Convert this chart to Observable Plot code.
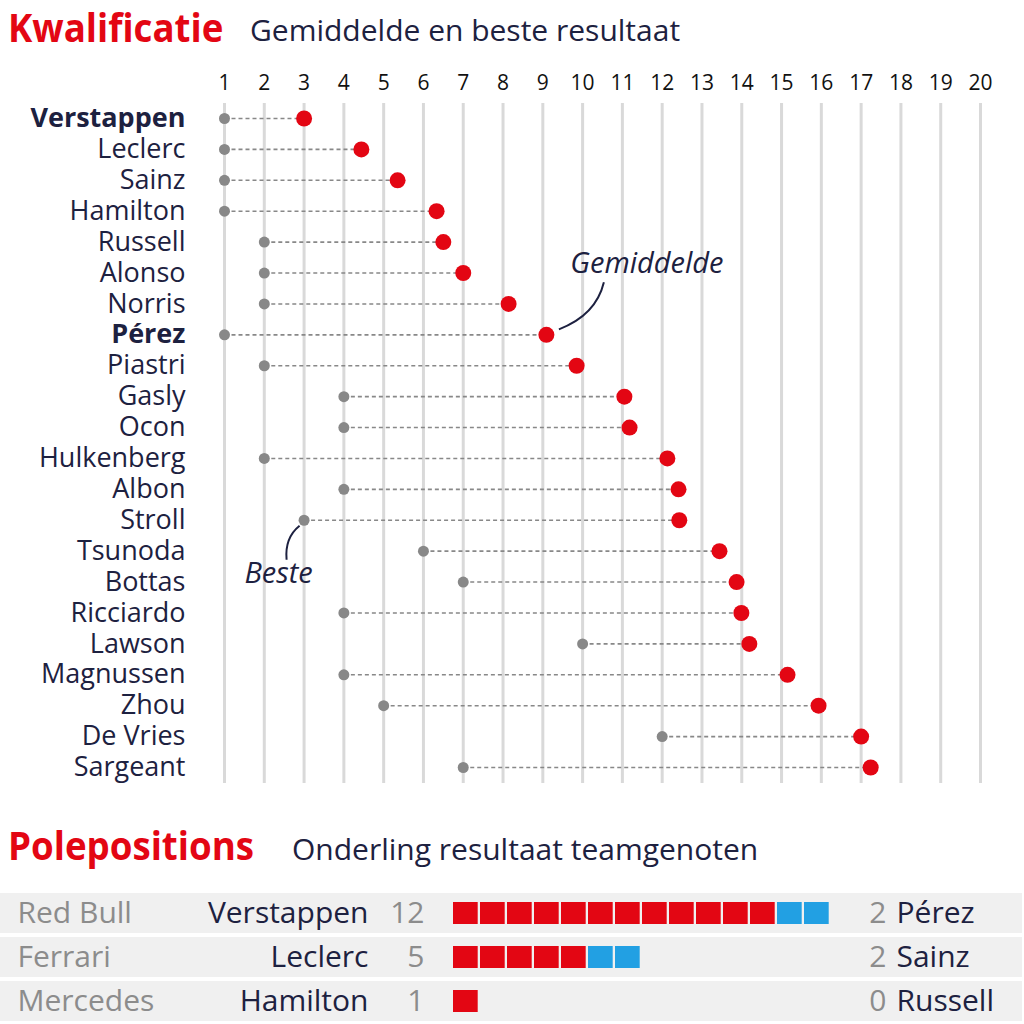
<!DOCTYPE html>
<html><head><meta charset="utf-8">
<script src="https://cdn.jsdelivr.net/npm/d3@7"></script>
<script src="https://cdn.jsdelivr.net/npm/@observablehq/plot@0.6"></script>
<style>
body{margin:0;background:#fff;width:1024px;height:1024px;position:relative;overflow:hidden;font-family:'Open Sans',sans-serif;}
.abs{position:absolute;white-space:nowrap;line-height:1}
.title{color:#e30613;font-weight:700;font-size:39px;transform:scaleX(0.94);transform-origin:0 0}
.sub{color:#1d2140;font-size:30px}
#topchart,#bottomchart{position:absolute;left:0}
</style></head>
<body>
<div id="topchart" style="top:0"></div>
<div id="bottomchart" style="top:888px"></div>
<div class="abs title" style="left:8px;top:7px">Kwalificatie</div>
<div class="abs sub" style="left:250px;top:15px">Gemiddelde en beste resultaat</div>
<div class="abs title" style="left:8px;top:825px">Polepositions</div>
<div class="abs sub" style="left:292px;top:834px">Onderling resultaat teamgenoten</div>
<script>
const drivers = ["Verstappen","Leclerc","Sainz","Hamilton","Russell","Alonso","Norris","Pérez","Piastri","Gasly","Ocon","Hulkenberg","Albon","Stroll","Tsunoda","Bottas","Ricciardo","Lawson","Magnussen","Zhou","De Vries","Sargeant"];
const gemiddelde = [3.0,4.44,5.35,6.33,6.5,7.0,8.14,9.09,9.85,11.05,11.18,12.13,12.41,12.43,13.44,13.87,13.99,14.19,15.15,15.93,17.0,17.24];
const beste = [1,1,1,1,2,2,2,1,2,4,4,2,4,3,6,7,4,10,4,5,12,7];
const boldDrivers = ["Verstappen","Pérez"];
const tickValues = [1,2,3,4,5,6,7,8,9,10,11,12,13,14,15,16,17,18,19,20];

const teams = ["Red Bull","Ferrari","Mercedes"];
const coureurA = ["Verstappen","Leclerc","Hamilton"];
const polesA = [12,5,1];
const coureurB = ["Pérez","Sainz","Russell"];
const polesB = [2,2,0];

const RED = "#e30613", BLUE = "#22a0e3", NAVY = "#1d2140", GREY = "#888888", FONT = "'Open Sans', sans-serif";

const rows = drivers.map((d,i)=>({name:d, avg:gemiddelde[i], best:beste[i], bold: boldDrivers.includes(d)}));

function annot(index, scales, values, dims) {
  const ns = "http://www.w3.org/2000/svg";
  const g = document.createElementNS(ns, "g");
  const add = (tag, attrs, txt) => { const e = document.createElementNS(ns, tag); for (const k in attrs) e.setAttribute(k, attrs[k]); if (txt) e.textContent = txt; g.appendChild(e); return e; };
  const p = rows.find(r => r.name === "Pérez");
  const px = scales.x(p.avg), py = scales.y(p.name);
  add("path", {d:`M${px+13},${py-5} Q${px+50},${py-19} ${px+58},${py-52}`, fill:"none", stroke:NAVY, "stroke-width":2});
  add("text", {x:px+101, y:py-71, dy:"0.35em", "text-anchor":"middle", "font-style":"italic", "font-size":29, fill:NAVY, "font-family":FONT}, "Gemiddelde");
  const s = rows.find(r => r.name === "Stroll");
  const sx = scales.x(s.best), sy = scales.y(s.name);
  add("path", {d:`M${sx-4},${sy+6} Q${sx-19},${sy+18} ${sx-17},${sy+40}`, fill:"none", stroke:NAVY, "stroke-width":2});
  add("text", {x:sx-25, y:sy+53, dy:"0.35em", "text-anchor":"middle", "font-style":"italic", "font-size":29, fill:NAVY, "font-family":FONT}, "Beste");
  return g;
}

const topPlot = Plot.plot({
  width: 1024, height: 800,
  marginLeft: 224, marginRight: 44, marginTop: 103, marginBottom: 17,
  style: {fontFamily: FONT, background: "transparent"},
  x: {domain: [1, 20], axis: null},
  y: {type: "point", domain: drivers, range: [118, 767], padding: 0, round: false, axis: null},
  marks: [
    Plot.ruleX(tickValues, {x: d => d, stroke: "#d9d9d9", strokeWidth: 3}),
    Plot.text(tickValues, {x: d => d, text: d => String(d), frameAnchor: "top", dy: -20, lineAnchor: "middle", fontSize: 21, fill: "#111"}),
    Plot.link(rows, {x1: "best", x2: "avg", y1: "name", y2: "name", stroke: GREY, strokeWidth: 1.6, strokeDasharray: "4,3"}),
    Plot.dot(rows, {x: "best", y: "name", r: 5.5, fill: GREY}),
    Plot.dot(rows, {x: "avg", y: "name", r: 8, fill: RED}),
    Plot.text(rows.filter(r => !r.bold), {y: "name", text: "name", frameAnchor: "left", dx: -39, textAnchor: "end", fontSize: 27, fill: NAVY}),
    Plot.text(rows.filter(r => r.bold), {y: "name", text: "name", frameAnchor: "left", dx: -39, textAnchor: "end", fontSize: 27, fontWeight: 700, fill: NAVY}),
    annot
  ]
});
document.getElementById("topchart").appendChild(topPlot);

const teamRows = teams.map((t,i)=>({team:t, a:coureurA[i], na:polesA[i], b:coureurB[i], nb:polesB[i]}));
const squares = teamRows.flatMap(r => d3.range(r.na + r.nb).map(i => ({team: r.team, i, who: i < r.na ? "A" : "B"})));
const X0 = 453, P = 27, W = 1024;

const bottomPlot = Plot.plot({
  width: W, height: 136,
  marginLeft: 0, marginRight: 0, marginTop: 0, marginBottom: 0,
  style: {fontFamily: FONT, background: "transparent"},
  x: {domain: [0, 1], range: [X0, X0 + P], axis: null},
  y: {type: "band", domain: teams, range: [5, 137], padding: 0, round: false, axis: null},
  color: {domain: ["A", "B"], range: [RED, BLUE]},
  marks: [
    Plot.barX(teams, {y: d => d, x1: -X0 / P, x2: (W - 2 - X0) / P, fill: "#f0f0f0", insetTop: 0, insetBottom: 4}),
    Plot.barX(squares, {y: "team", x1: "i", x2: d => d.i + 1, fill: "who", insetRight: 2.3, insetTop: 9, insetBottom: 13}),
    Plot.text(teamRows, {y: "team", text: "team", frameAnchor: "left", dx: 17, dy: -2, textAnchor: "start", fontSize: 30, fill: "#8c8c8c"}),
    Plot.text(teamRows, {y: "team", text: "a", frameAnchor: "left", dx: 368, dy: -2, textAnchor: "end", fontSize: 30, fill: NAVY}),
    Plot.text(teamRows, {y: "team", text: d => String(d.na), frameAnchor: "left", dx: 424, dy: -2, textAnchor: "end", fontSize: 30, fill: "#8c8c8c"}),
    Plot.text(teamRows, {y: "team", text: d => String(d.nb), frameAnchor: "left", dx: 886, dy: -2, textAnchor: "end", fontSize: 30, fill: "#8c8c8c"}),
    Plot.text(teamRows, {y: "team", text: "b", frameAnchor: "left", dx: 896, dy: -2, textAnchor: "start", fontSize: 30, fill: NAVY})
  ]
});
document.getElementById("bottomchart").appendChild(bottomPlot);
</script>
</body></html>
